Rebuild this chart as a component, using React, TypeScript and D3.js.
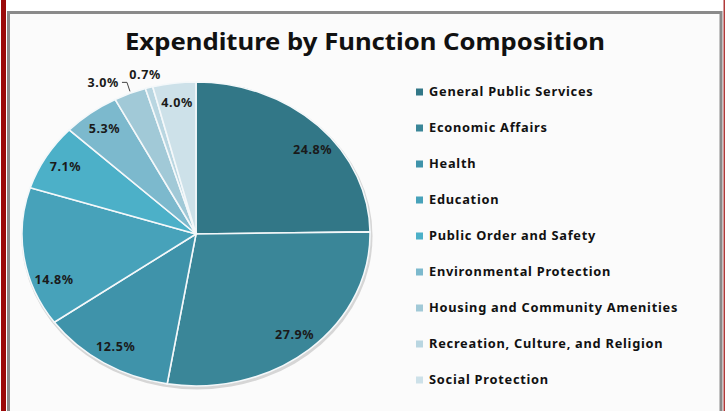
import { useRef, useEffect } from 'react'
import * as d3 from 'd3'

const W = 725
const H = 411

const categories = [
  'General Public Services',
  'Economic Affairs',
  'Health',
  'Education',
  'Public Order and Safety',
  'Environmental Protection',
  'Housing and Community Amenities',
  'Recreation, Culture, and Religion',
  'Social Protection',
]
const shares = [24.8, 27.9, 12.5, 14.8, 7.1, 5.3, 3.0, 0.7, 4.0]
const colors = [
  '#327787', '#3a8698', '#3f93aa', '#47a2ba', '#4cb0c8',
  '#7cb9cd', '#a1c9d7', '#b9d6e1', '#cde1e9',
]

// labels that Excel pushed outside the pie
const OUTSIDE = new Set(['Housing and Community Amenities', 'Recreation, Culture, and Religion'])

const CX = 196
const CY = 234
const R = 152
const SX = 1.145 // pie is stretched horizontally in the picture

export default function App() {
  const svgRef = useRef<SVGSVGElement>(null)

  useEffect(() => {
    if (!svgRef.current) return
    const svg = d3.select(svgRef.current)
    svg.selectAll('*').remove()

    // frame
    svg.append('rect').attr('width', W).attr('height', H).attr('fill', '#fff')
    svg.append('rect').attr('x', 1).attr('y', 0).attr('width', 5).attr('height', H).attr('fill', '#9b0a0a')
    svg.append('rect').attr('x', 723.5).attr('y', 0).attr('width', 1.5).attr('height', H).attr('fill', '#b03a3a')
    svg.append('rect')
      .attr('x', 8.5).attr('y', 12.5).attr('width', 712.5).attr('height', H)
      .attr('fill', '#fbfbfb').attr('stroke', '#8a8a8a').attr('stroke-width', 3)

    // title
    svg.append('text')
      .attr('x', 365).attr('y', 50)
      .attr('text-anchor', 'middle')
      .attr('font-family', '"Noto Sans", sans-serif')
      .attr('font-weight', 700)
      .attr('font-size', 23)
      .attr('textLength', 480)
      .attr('lengthAdjust', 'spacingAndGlyphs')
      .attr('fill', '#111')
      .text('Expenditure by Function Composition')

    const data = categories.map((c, i) => ({ name: c, value: shares[i], color: colors[i] }))
    const pie = d3.pie<{ name: string; value: number; color: string }>().value((d) => d.value).sort(null)
    const arcs = pie(data)
    const arc = d3.arc<d3.PieArcDatum<{ name: string; value: number; color: string }>>().innerRadius(0).outerRadius(R)

    // soft shadow
    svg.append('ellipse')
      .attr('cx', CX + 1).attr('cy', CY + 2).attr('rx', R * SX + 1.5).attr('ry', R + 1.5)
      .attr('fill', '#d6d6d6')

    const g = svg.append('g').attr('transform', `translate(${CX},${CY}) scale(${SX},1)`)
    g.selectAll('path')
      .data(arcs)
      .join('path')
      .attr('d', arc)
      .attr('fill', (d) => d.data.color)
      .attr('stroke', '#f4f8fa')
      .attr('stroke-width', 1.6)
      .attr('vector-effect', 'non-scaling-stroke')

    const pt = (angle: number, r: number) => [CX + Math.sin(angle) * r * SX, CY - Math.cos(angle) * r]
    const shift: Record<string, number> = { 'Education': -0.2, 'General Public Services': 0.1 }

    const labels = svg.append('g')
      .attr('font-family', '"Noto Sans", sans-serif')
      .attr('font-weight', 700)
      .attr('font-size', 12.5)
      .attr('letter-spacing', 0.6)
      .attr('fill', '#1a1a1a')

    arcs.forEach((a) => {
      const mid = (a.startAngle + a.endAngle) / 2 + (shift[a.data.name] ?? 0)
      const txt = `${a.data.value.toFixed(1)}%`
      if (!OUTSIDE.has(a.data.name)) {
        const [x, y] = pt(mid, R * 0.87)
        labels.append('text').attr('x', x).attr('y', y).attr('dy', '0.35em').attr('text-anchor', 'middle').text(txt)
      } else if (a.data.name.startsWith('Housing')) {
        const [ex, ey] = pt(mid, R)
        const [lx, ly] = [ex - 3, ey - 11]
        svg.append('path')
          .attr('d', `M${ex},${ey - 2}L${lx},${ly}L${lx - 5},${ly}`)
          .attr('fill', 'none').attr('stroke', '#444').attr('stroke-width', 1)
        labels.append('text').attr('x', lx - 8).attr('y', ly).attr('dy', '0.35em').attr('text-anchor', 'end').text(txt)
      } else {
        const [x, y] = pt(mid, R + 13)
        labels.append('text').attr('x', x).attr('y', y).attr('dy', '0.35em').attr('text-anchor', 'middle').text(txt)
      }
    })

    // legend
    const ly = d3.scalePoint<string>().domain(categories).range([92, 380])
    const leg = svg.append('g')
      .attr('font-family', '"Noto Sans", sans-serif')
      .attr('font-weight', 700)
      .attr('font-size', 12.8)
      .attr('letter-spacing', 0.75)
      .attr('fill', '#111')
    categories.forEach((c, i) => {
      const y = ly(c) ?? 0
      leg.append('rect').attr('x', 416).attr('y', y - 3.5).attr('width', 7).attr('height', 7).attr('fill', colors[i])
      leg.append('text').attr('x', 429).attr('y', y).attr('dy', '0.35em').text(c)
    })
  }, [])

  return (
    <div style={{ position: 'absolute', left: 0, top: 0 }}>
      <style>{'body{margin:0}'}</style>
      <svg ref={svgRef} width={W} height={H} style={{ display: 'block' }} />
    </div>
  )
}
